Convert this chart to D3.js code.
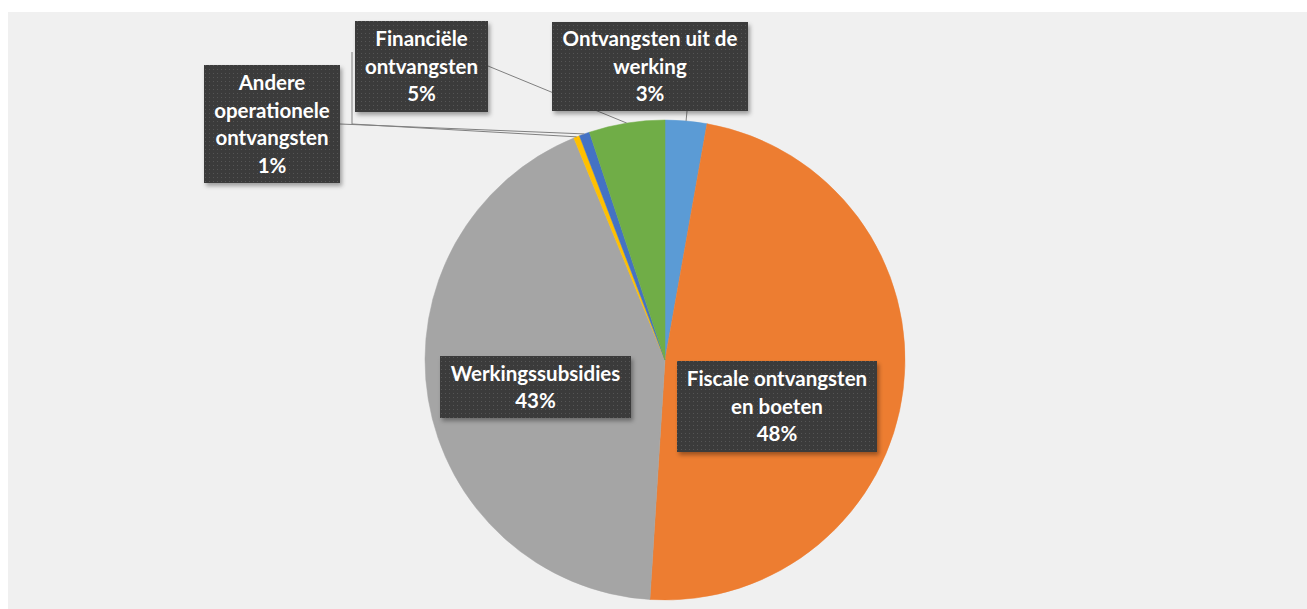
<!DOCTYPE html>
<html>
<head>
<meta charset="utf-8">
<script src="https://cdn.jsdelivr.net/npm/d3@7"></script>
<style>
  body { margin: 0; background: #ffffff; }
  svg { display: block; }
</style>
</head>
<body>
<script>
// categories + values (percent of total), clockwise from 12 o'clock
var categories = ["Ontvangsten uit de werking", "Fiscale ontvangsten en boeten", "Werkingssubsidies",
                  "Overige", "Andere operationele ontvangsten", "Financiële ontvangsten"];
var values = [2.8, 48.2, 42.8, 0.4, 0.7, 5.1];
var colors = ["#5b9bd5", "#ed7d31", "#a5a5a5", "#ffc000", "#4472c4", "#70ad47"];

// label text lines (null = no label shown)
var labelLines = [
  ["Ontvangsten uit de", "werking"],
  ["Fiscale ontvangsten", "en boeten"],
  ["Werkingssubsidies"],
  null,
  ["Andere", "operationele", "ontvangsten"],
  ["Financiële", "ontvangsten"]
];

// label box layout: x, y, w, h  (from/via = leader start points)
var labelBoxes = [
  { x: 552, y: 22, w: 196, h: 89, from: [687, 111] },
  { x: 677, y: 361, w: 200, h: 91, from: null },
  { x: 440, y: 356, w: 191, h: 62, from: null },
  { x: 0, y: 0, w: 0, h: 0, from: [352, 52], via: [352, 124] },
  { x: 204, y: 65, w: 136, h: 118, from: [340, 124] },
  { x: 355, y: 21, w: 133, h: 91, from: [488, 66] }
];

var W = 1307, H = 609;
var cx = 665, cy = 360, R = 240;

var svg = d3.select("body").append("svg")
  .attr("width", W).attr("height", H);

var defs = svg.append("defs");
var pat = defs.append("pattern").attr("id", "dots")
  .attr("width", 4).attr("height", 4).attr("patternUnits", "userSpaceOnUse");
pat.append("rect").attr("width", 4).attr("height", 4).attr("fill", "#3b3b3b");
pat.append("rect").attr("x", 1).attr("y", 1).attr("width", 1).attr("height", 1).attr("fill", "#555555");

var filt = defs.append("filter").attr("id", "shadow")
  .attr("x", "-10%").attr("y", "-10%").attr("width", "130%").attr("height", "130%");
filt.append("feDropShadow").attr("dx", 2).attr("dy", 3).attr("stdDeviation", 2)
  .attr("flood-color", "#000").attr("flood-opacity", 0.35);

// plot background
svg.append("rect").attr("x", 8).attr("y", 12).attr("width", W - 8).attr("height", H - 12)
  .attr("fill", "#f0f0f0");

var pie = d3.pie().sort(null).value(function (d) { return d; });
var arcs = pie(values);
var arc = d3.arc().innerRadius(0).outerRadius(R);

var g = svg.append("g").attr("transform", "translate(" + cx + "," + cy + ")");
g.selectAll("path").data(arcs).enter().append("path")
  .attr("d", arc)
  .attr("fill", function (d, i) { return colors[i]; })
  .attr("stroke", function (d, i) { return colors[i]; })
  .attr("stroke-width", 0.5);

// leader lines
var edge = d3.arc().innerRadius(R).outerRadius(R);
arcs.forEach(function (a, i) {
  var lb = labelBoxes[i];
  if (!lb.from) return;
  var p = edge.centroid(a);
  var pts = [lb.from];
  if (lb.via) pts.push(lb.via);
  pts.push([cx + p[0], cy + p[1]]);
  svg.append("path")
    .attr("d", d3.line()(pts))
    .attr("fill", "none")
    .attr("stroke", "#7f7f7f")
    .attr("stroke-width", 1);
});

// labels
var lineH = 27.5;
arcs.forEach(function (a, i) {
  if (!labelLines[i]) return;
  var lb = labelBoxes[i];
  var lines = labelLines[i].concat([Math.round(values[i]) + "%"]);
  var lg = svg.append("g");
  lg.append("rect")
    .attr("x", lb.x).attr("y", lb.y).attr("width", lb.w).attr("height", lb.h)
    .attr("fill", "url(#dots)")
    .attr("filter", "url(#shadow)");
  var top = lb.y + lb.h / 2 - (lines.length - 1) * lineH / 2;
  lines.forEach(function (t, k) {
    lg.append("text")
      .attr("x", lb.x + lb.w / 2)
      .attr("y", top + k * lineH)
      .attr("dy", "0.36em")
      .attr("text-anchor", "middle")
      .attr("fill", "#ffffff")
      .style("font-family", "Lato, 'Open Sans', sans-serif")
      .style("font-weight", "bold")
      .style("font-size", "20.5px")
      .text(t);
  });
});
</script>
</body>
</html>
